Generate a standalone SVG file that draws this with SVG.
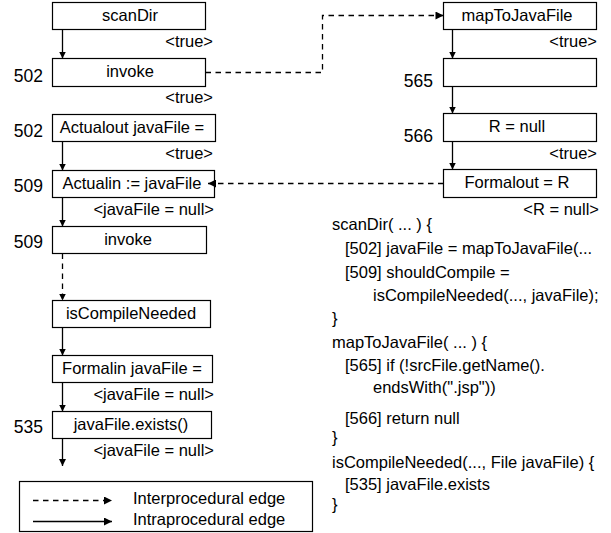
<svg xmlns="http://www.w3.org/2000/svg" width="611" height="533" viewBox="0 0 611 533">
<defs>
<style>
text{font-family:"Liberation Sans",Arial,sans-serif;font-size:16.5px;fill:#000}
.box rect{fill:#fff;stroke:#000;stroke-width:1.2}
.box text{text-anchor:middle}
.box text.ln{font-size:17.5px;text-anchor:end}
.lbl{text-anchor:end}
.solid{stroke:#000;stroke-width:1.3;fill:none}
.dash{stroke:#000;stroke-width:1.3;fill:none;stroke-dasharray:5.5 4.5}
</style>
<marker id="av" viewBox="0 0 10 10" refX="10" refY="5" markerWidth="7" markerHeight="9" markerUnits="userSpaceOnUse" orient="auto"><path d="M0,0 L10,5 L0,10 Z" fill="#000"/></marker>
<marker id="ah" viewBox="0 0 10 10" refX="10" refY="5" markerWidth="17" markerHeight="8" markerUnits="userSpaceOnUse" orient="auto"><path d="M0,0 L10,5 L0,10 Z" fill="#000"/></marker>
</defs>
<rect width="611" height="533" fill="#fff"/>

<g id="scanDir" class="box"><rect x="52.5" y="2.5" width="153" height="27"/><text x="130" y="21">scanDir</text></g>
<g id="invoke502" class="box"><rect x="52.5" y="58.5" width="153" height="28"/><text x="130" y="77">invoke</text><text class="ln" x="43" y="82">502</text></g>
<g id="actualout" class="box"><rect x="52.5" y="114.5" width="163" height="27"/><text x="132" y="133">Actualout javaFile =</text><text class="ln" x="43" y="137">502</text></g>
<g id="actualin" class="box"><rect x="52.5" y="170.5" width="162" height="27"/><text x="132" y="189">Actualin := javaFile</text><text class="ln" x="43" y="192">509</text></g>
<g id="invoke509" class="box"><rect x="52.5" y="226.5" width="154" height="27"/><text x="128" y="245">invoke</text><text class="ln" x="43" y="248">509</text></g>
<g id="isCompileNeeded" class="box"><rect x="52.5" y="300.5" width="158" height="27"/><text x="131" y="319">isCompileNeeded</text></g>
<g id="formalin" class="box"><rect x="52.5" y="355.5" width="160" height="27"/><text x="132" y="374">Formalin javaFile =</text></g>
<g id="exists" class="box"><rect x="52.5" y="411.5" width="159" height="27"/><text x="131" y="430">javaFile.exists()</text><text class="ln" x="43" y="433">535</text></g>

<g id="mapToJavaFile" class="box"><rect x="443.5" y="2.5" width="153" height="27"/><text x="517" y="21">mapToJavaFile</text></g>
<g id="n565" class="box"><rect x="443.5" y="58.5" width="153" height="28"/><text class="ln" x="433" y="87">565</text></g>
<g id="rnull" class="box"><rect x="443.5" y="113.5" width="153" height="28"/><text x="517" y="132">R = null</text><text class="ln" x="433" y="142">566</text></g>
<g id="formalout" class="box"><rect x="443.5" y="169.5" width="153" height="28"/><text x="517" y="188">Formalout = R</text></g>

<g id="connectors">
<path class="solid" d="M62.5,29.5 V58.5" marker-end="url(#av)"/>
<path class="solid" d="M62.5,141.5 V170.5" marker-end="url(#av)"/>
<path class="solid" d="M62.5,197.5 V226.5" marker-end="url(#av)"/>
<path class="dash" d="M62.5,253.5 V300.5" marker-end="url(#av)"/>
<path class="solid" d="M62.5,327.5 V355.5" marker-end="url(#av)"/>
<path class="solid" d="M62.5,382.5 V411.5" marker-end="url(#av)"/>
<path class="solid" d="M62.5,438.5 V466" marker-end="url(#av)"/>
<path class="solid" d="M452.5,29.5 V58.5" marker-end="url(#av)"/>
<path class="solid" d="M452.5,86.5 V113.5" marker-end="url(#av)"/>
<path class="solid" d="M452.5,141.5 V169.5" marker-end="url(#av)"/>
<path class="dash" d="M205.5,72.5 H322.5 V15.5 H443.5" marker-end="url(#ah)"/>
<path class="dash" d="M443.5,183.5 H208" marker-end="url(#ah)"/>
<text class="lbl" x="213" y="47">&lt;true&gt;</text>
<text class="lbl" x="213" y="103">&lt;true&gt;</text>
<text class="lbl" x="213" y="159">&lt;true&gt;</text>
<text class="lbl" x="214" y="215">&lt;javaFile = null&gt;</text>
<text class="lbl" x="214" y="400">&lt;javaFile = null&gt;</text>
<text class="lbl" x="214" y="456">&lt;javaFile = null&gt;</text>
<text class="lbl" x="597" y="47">&lt;true&gt;</text>
<text class="lbl" x="597" y="159">&lt;true&gt;</text>
<text class="lbl" x="599" y="215">&lt;R = null&gt;</text>
</g>

<g id="code">
<text x="332" y="230">scanDir( ... ) {</text>
<text x="345" y="254">[502] javaFile = mapToJavaFile(...</text>
<text x="345" y="278">[509] shouldCompile =</text>
<text x="373" y="301">isCompileNeeded(..., javaFile);</text>
<text x="332" y="324">}</text>
<text x="332" y="348">mapToJavaFile( ... ) {</text>
<text x="345" y="371">[565] if (!srcFile.getName().</text>
<text x="373" y="393">endsWith(".jsp"))</text>
<text x="345" y="424">[566] return null</text>
<text x="332" y="443">}</text>
<text x="332" y="468">isCompileNeeded(..., File javaFile) {</text>
<text x="345" y="490">[535] javaFile.exists</text>
<text x="332" y="510">}</text>
</g>

<g id="legend">
<rect x="19.5" y="481.5" width="293" height="50" fill="#fff" stroke="#000" stroke-width="1.2"/>
<path class="dash" d="M33,500.5 H112" marker-end="url(#ah)"/>
<path class="solid" d="M33,521.5 H112" marker-end="url(#ah)"/>
<text x="133" y="504">Interprocedural edge</text>
<text x="133" y="525">Intraprocedural edge</text>
</g>
</svg>
